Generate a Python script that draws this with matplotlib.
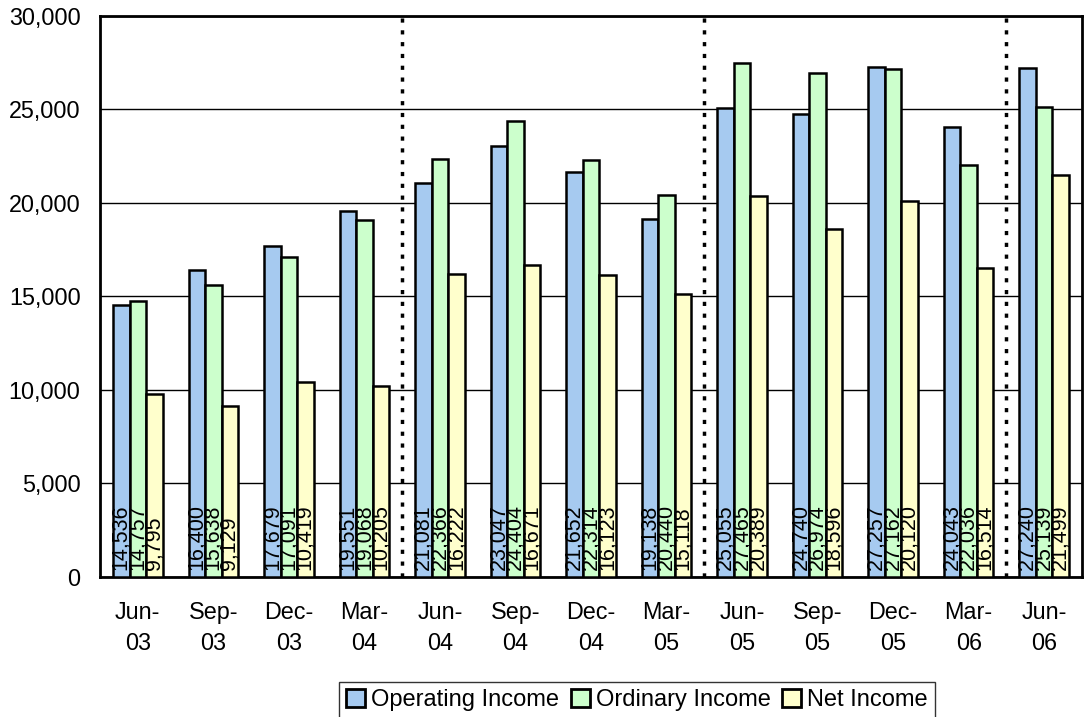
import numpy as np
import matplotlib
matplotlib.use("Agg")
import matplotlib.pyplot as plt
from matplotlib.ticker import FuncFormatter

plt.rcParams['font.family'] = ['Liberation Sans', 'DejaVu Sans']

# quarter labels
quarters = ['Jun-\n03', 'Sep-\n03', 'Dec-\n03', 'Mar-\n04',
            'Jun-\n04', 'Sep-\n04', 'Dec-\n04', 'Mar-\n05',
            'Jun-\n05', 'Sep-\n05', 'Dec-\n05', 'Mar-\n06',
            'Jun-\n06']

operating = [14536, 16400, 17679, 19551, 21081, 23047, 21652, 19138,
             25055, 24740, 27257, 24043, 27240]
ordinary = [14757, 15638, 17091, 19068, 22366, 24404, 22314, 20440,
            27465, 26974, 27162, 22036, 25139]
net = [9795, 9129, 10419, 10205, 16222, 16671, 16123, 15118,
       20389, 18596, 20120, 16514, 21499]

series_names = ['Operating Income', 'Ordinary Income', 'Net Income']
colors = ['#A6CAF0', '#CCFFCC', '#FFFFCC']

# fiscal year boundaries (between Mar and Jun)
year_breaks = [3.5, 7.5, 11.5]

fig = plt.figure(figsize=(10.85, 7.17), dpi=100)
ax = fig.add_axes([0.0922, 0.1953, 0.9050, 0.7824])

x = np.arange(len(quarters))
w = 0.218
for i, (vals, name, col) in enumerate(zip([operating, ordinary, net], series_names, colors)):
    pos = x + (i - 1) * w
    ax.bar(pos, vals, width=w, color=col, edgecolor='black', linewidth=1.8,
           label=name, zorder=3)
    for px, v in zip(pos, vals):
        ax.text(px, 380, f"{v:,}", rotation=90, ha='center', va='bottom',
                fontsize=15.5, zorder=4)

for b in year_breaks:
    ax.axvline(b, color='black', linewidth=2.5, linestyle=(0, (1.2, 2.2)), zorder=2)

ax.set_xlim(-0.5, len(quarters) - 0.5)
ax.set_ylim(0, 30000)
ax.set_yticks(np.arange(0, 30001, 5000))
ax.yaxis.set_major_formatter(FuncFormatter(lambda v, p: f"{int(v):,}"))
ax.set_xticks(x)
ax.set_xticklabels(quarters, linespacing=1.45)
ax.tick_params(axis='both', length=0, labelsize=16.8)
ax.tick_params(axis='y', pad=14)
ax.tick_params(axis='x', pad=17)
ax.grid(axis='y', color='black', linewidth=1, zorder=1)
for s in ax.spines.values():
    s.set_linewidth(2)

leg = fig.legend(loc='upper center', ncol=3,
                 fontsize=17, frameon=True, fancybox=False, edgecolor='black',
                 handlelength=0.8, handleheight=0.8, handletextpad=0.25,
                 columnspacing=0.5, borderpad=0.3, borderaxespad=0)
leg.get_frame().set_linewidth(1)
leg.set_bbox_to_anchor((0.587, 1 - 682 / 717), transform=fig.transFigure)
for h in leg.legend_handles:
    h.set_linewidth(2)

fig.savefig('out.png', dpi=100)
